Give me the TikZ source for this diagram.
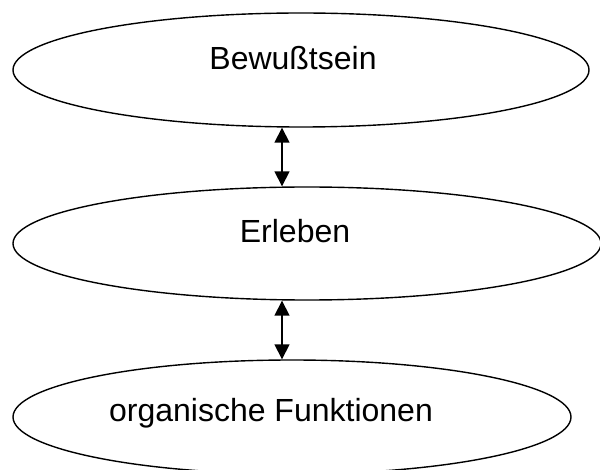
\documentclass[tikz,border=0pt]{standalone}
\usepackage{fontspec}
\setmainfont{Liberation Sans}
\usetikzlibrary{shapes.geometric,arrows.meta}
\begin{document}
\begin{tikzpicture}[x=1pt,y=-1pt,
  ell/.style={draw=black,line width=1.4pt,ellipse,inner sep=0pt,fill=white},
  lbl/.style={anchor=base,inner sep=0pt,font=\fontsize{32}{36}\selectfont},
  conn/.style={line width=1.6pt,{Triangle[width=15pt,length=15pt]}-{Triangle[width=15pt,length=15pt]}}]
\useasboundingbox (0,0) rectangle (600,470);
\node[ell,minimum width=576pt,minimum height=114pt] (a) at (301,70) {};
\node[ell,minimum width=588pt,minimum height=113pt] (b) at (307,243.5) {};
\node[ell,minimum width=558pt,minimum height=114pt] (c) at (292,417) {};
\node[lbl] (ta) at (293,70) {Bewußtsein};
\node[lbl] (tb) at (295,243) {Erleben};
\node[lbl] (tc) at (271,421) {organische Funktionen};
\coordinate (ax) at (282,0);
\draw[conn] (a.south -| ax) -- (b.north -| ax);
\draw[conn] (b.south -| ax) -- (c.north -| ax);
\end{tikzpicture}
\end{document}
